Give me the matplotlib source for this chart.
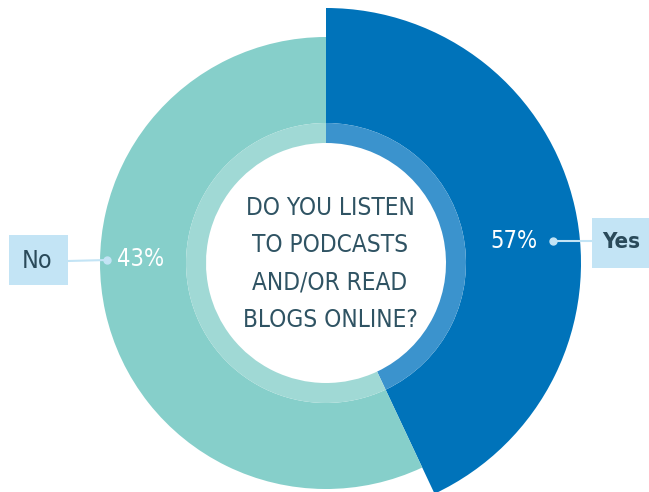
import matplotlib
matplotlib.use("Agg")
import matplotlib.pyplot as plt
from matplotlib.patches import Rectangle

# Data
categories = ["Yes", "No"]
arc_shares = [43, 57]          # arc sizes as drawn
pct_labels = ["57%", "43%"]    # labels as printed
question = "DO YOU LISTEN\nTO PODCASTS\nAND/OR READ\nBLOGS ONLINE?"

W, H = 649, 492
fig = plt.figure(figsize=(W / 100, H / 100), dpi=100)
ax = fig.add_axes([0, 0, 1, 1])
ax.set_xlim(0, W)
ax.set_ylim(0, H)
ax.set_aspect("equal")
ax.axis("off")

FONT = ["DejaVu Sans"]
ST = "condensed"
cx, cy = 326, H - 263
outer_r = {"Yes": 255, "No": 226}
ring_in, ring_out = 120, 140
main_cols = ["#0073BA", "#86CFCA"]
ring_cols = ["#3B93CD", "#A0D9D5"]

wedges, _ = ax.pie(arc_shares, radius=255, center=(cx, cy), startangle=90,
                   counterclock=False, colors=main_cols,
                   wedgeprops=dict(width=255 - ring_out, linewidth=0))
for w, cat in zip(wedges, categories):
    w.set_radius(outer_r[cat])
    w.set_width(outer_r[cat] - ring_out)

ax.pie(arc_shares, radius=ring_out, center=(cx, cy), startangle=90,
       counterclock=False, colors=ring_cols,
       wedgeprops=dict(width=ring_out - ring_in, linewidth=0))
ax.set_xlim(0, W)
ax.set_ylim(0, H)

ax.text(330, H - 264, question, ha="center", va="center", color="#2F5363",
        fontsize=17.5, family=FONT, fontstretch=ST, linespacing=1.7)

txt_col = "#2A4A5A"
box_col = "#C3E4F5"
# No label
ax.add_patch(Rectangle((9, H - 285), 59, 50, color=box_col, lw=0))
ax.text(37, H - 261, categories[1], ha="center", va="center", fontsize=18,
        family=FONT, fontstretch=ST, color=txt_col)
ax.plot([68, 107], [H - 261, H - 260], color=box_col, lw=1.5)
ax.plot([107], [H - 260], "o", color=box_col, ms=5)
ax.text(141, H - 259, pct_labels[1], ha="center", va="center", fontsize=17,
        family=FONT, fontstretch=ST, color="white")

# Yes label
ax.add_patch(Rectangle((592, H - 268), 57, 50, color=box_col, lw=0))
ax.text(621, H - 242, categories[0], ha="center", va="center", fontsize=16,
        family=FONT, fontstretch=ST, color=txt_col, fontweight="bold")
ax.plot([553, 592], [H - 241, H - 241], color=box_col, lw=1.5)
ax.plot([553], [H - 241], "o", color=box_col, ms=5)
ax.text(514, H - 241, pct_labels[0], ha="center", va="center", fontsize=17,
        family=FONT, fontstretch=ST, color="white")

fig.savefig("out.png", dpi=100)
